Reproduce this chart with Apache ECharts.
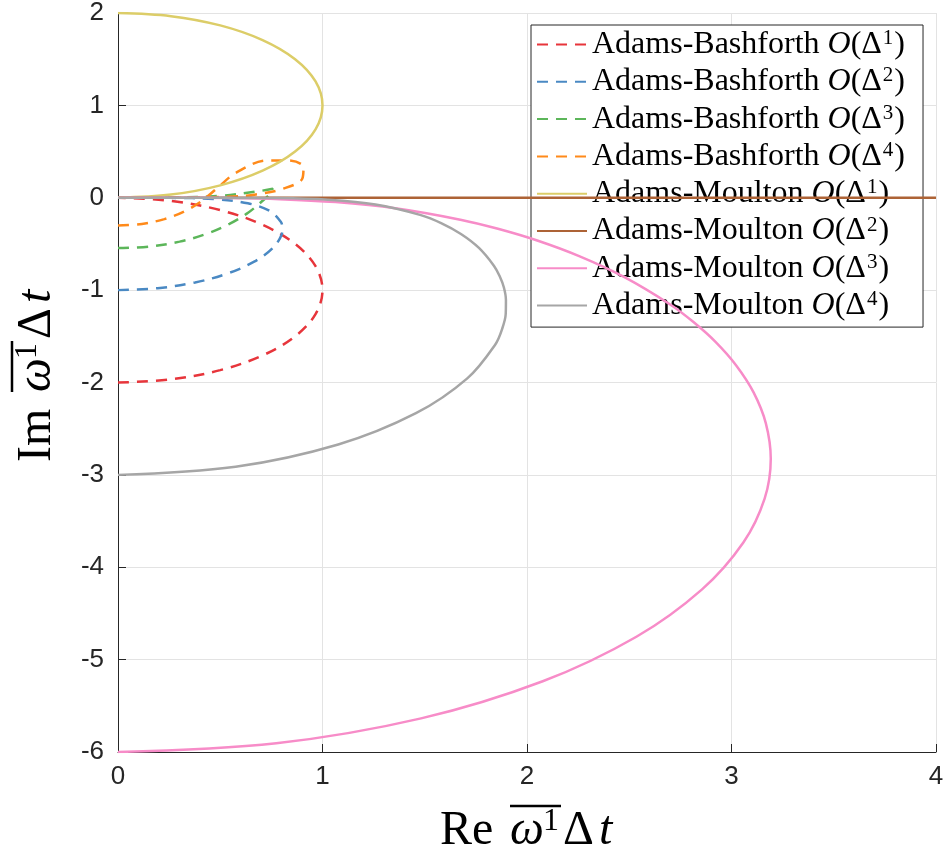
<!DOCTYPE html>
<html>
<head>
<meta charset="utf-8">
<title>Stability regions</title>
<script src="https://cdn.jsdelivr.net/npm/echarts@6/dist/echarts.min.js"></script>
<style>
  html, body { margin: 0; padding: 0; background: #fff; }
  #chart { width: 948px; height: 862px; }
</style>
</head>
<body>
<div id="chart"></div>
<script>
// 曲线数据：[Re, Im]
const ab1 = [[0, -2], [0.259, -1.966], [0.5, -1.866], [0.707, -1.707], [0.866, -1.5], [0.966, -1.259], [1, -1],
  [0.966, -0.741], [0.866, -0.5], [0.707, -0.293], [0.5, -0.134], [0.259, -0.034], [0, 0]];
const ab2 = [[0, -1], [0.194, -0.979], [0.377, -0.917], [0.538, -0.818], [0.666, -0.692], [0.755, -0.549], [0.8, -0.4],
  [0.804, -0.328], [0.796, -0.26], [0.742, -0.143], [0.635, -0.06], [0.472, -0.015], [0.255, -0.001], [0, 0]];
const ab3 = [[0, -0.545], [0.155, -0.528], [0.301, -0.475], [0.433, -0.391], [0.545, -0.283], [0.636, -0.162], [0.703, -0.041],
  [0.749, 0.055], [0.757, 0.097], [0.688, 0.071], [0.508, 0.022], [0.261, 0.002], [0, 0]];
const ab4 = [[0, -0.3], [0.117, -0.283], [0.227, -0.231], [0.326, -0.147], [0.411, -0.032], [0.488, 0.11], [0.578, 0.272],
  [0.73, 0.403], [0.831, 0.404], [0.907, 0.33], [0.901, 0.206], [0.808, 0.098], [0.674, 0.036], [0.533, 0.01], [0.262, 0], [0, 0]];
const am1 = [[0, 2], [0.259, 1.966], [0.5, 1.866], [0.707, 1.707], [0.866, 1.5], [0.966, 1.259], [1, 1],
  [0.966, 0.741], [0.866, 0.5], [0.707, 0.293], [0.5, 0.134], [0.259, 0.034], [0, 0]];
const am2 = [[0, 0], [4, 0]];
const am3 = [[0, -6], [0.774, -5.905], [1.482, -5.636], [2.077, -5.234], [2.535, -4.752], [2.856, -4.239], [3.058, -3.732],
  [3.162, -3.257], [3.192, -2.826], [3.168, -2.442], [3.108, -2.107], [3.023, -1.815], [2.923, -1.563], [2.814, -1.346],
  [2.702, -1.158], [2.474, -0.857], [2.255, -0.632], [2.05, -0.463], [1.858, -0.336], [1.68, -0.24], [1.356, -0.114],
  [1.064, -0.047], [0.79, -0.015], [0.524, -0.003], [0.262, 0], [0, 0]];
const am4 = [[0, -3], [0.575, -2.912], [1.077, -2.671], [1.457, -2.332], [1.708, -1.955], [1.845, -1.588], [1.879, -1.416],
  [1.896, -1.256], [1.897, -1.107], [1.887, -0.971], [1.866, -0.847], [1.838, -0.735], [1.765, -0.543], [1.677, -0.392],
  [1.58, -0.274], [1.477, -0.185], [1.259, -0.073], [1.026, -0.022], [0.779, -0.004], [0.524, -0.001], [0.262, 0], [0, 0]];

const methodNames = ['Adams-Bashforth', 'Adams-Bashforth', 'Adams-Bashforth', 'Adams-Bashforth',
  'Adams-Moulton', 'Adams-Moulton', 'Adams-Moulton', 'Adams-Moulton'];
const methodOrders = [1, 2, 3, 4, 1, 2, 3, 4];
const seriesData = [ab1, ab2, ab3, ab4, am1, am2, am3, am4];
const seriesColors = ['#e7353b', '#4a89c3', '#5cb65a', '#ff8a1a', '#dccd68', '#ad6336', '#f78cc8', '#a6a6a6'];
const xTicks = [0, 1, 2, 3, 4];
const yTicks = [-6, -5, -4, -3, -2, -1, 0, 1, 2];

const SUP = ['⁰', '¹', '²', '³', '⁴'];
const seriesNames = methodNames.map((m, i) => m + ' O(Δ' + SUP[methodOrders[i]] + ')');

const SERIF = 'Liberation Serif';
const SANS = 'Liberation Sans, Arial, sans-serif';

const chart = echarts.init(document.getElementById('chart'));

const series = seriesNames.map((name, i) => ({
  name: name,
  type: 'line',
  data: seriesData[i],
  showSymbol: false,
  symbol: 'none',
  smooth: i === 5 ? false : 0.35,
  lineStyle: {
    color: seriesColors[i],
    width: 2.5,
    type: i < 4 ? [11, 8] : 'solid'
  },
  itemStyle: { color: seriesColors[i] },
  z: 2 + i
}));

// 轴标题：分段排版（Re/Im, ω, 上标1, Δ, t）
function titlePieces(word) {
  const big = { fontFamily: SERIF, fontSize: 48, fill: '#000' };
  return [
    { type: 'text', x: 0, y: 0, style: Object.assign({ text: word, verticalAlign: 'middle' }, big) },
    { type: 'text', x: 70, y: 0, style: Object.assign({ text: 'ω', verticalAlign: 'middle', fontStyle: 'italic' }, big) },
    { type: 'text', x: 103, y: -9, style: { text: '1', verticalAlign: 'middle', fontFamily: SERIF, fontSize: 32, fill: '#000' } },
    { type: 'text', x: 123, y: 0, style: Object.assign({ text: 'Δ', verticalAlign: 'middle' }, big) },
    { type: 'text', x: 159, y: 0, style: Object.assign({ text: 't', verticalAlign: 'middle', fontStyle: 'italic' }, big) },
    { type: 'line', shape: { x1: 70, y1: -25, x2: 121, y2: -25 }, style: { stroke: '#000', lineWidth: 2.5 } }
  ];
}

const option = {
  animation: false,
  backgroundColor: '#fff',
  grid: { left: 118, top: 12, width: 818, height: 740, containLabel: false },
  xAxis: {
    type: 'value',
    min: xTicks[0],
    max: xTicks[xTicks.length - 1],
    interval: 1,
    axisLine: { show: true, onZero: false, lineStyle: { color: '#262626', width: 1 } },
    axisTick: { show: true, inside: true, length: 8, lineStyle: { color: '#262626' } },
    axisLabel: { fontFamily: SANS, fontSize: 26, color: '#262626', margin: 12 },
    splitLine: { show: true, lineStyle: { color: '#e3e3e3', width: 1 } }
  },
  yAxis: {
    type: 'value',
    min: yTicks[0],
    max: yTicks[yTicks.length - 1],
    interval: 1,
    axisLine: { show: true, onZero: false, lineStyle: { color: '#262626', width: 1 } },
    axisTick: { show: true, inside: true, length: 8, lineStyle: { color: '#262626' } },
    axisLabel: { fontFamily: SANS, fontSize: 26, color: '#262626', margin: 14 },
    splitLine: { show: true, lineStyle: { color: '#e3e3e3', width: 1 } }
  },
  legend: {
    orient: 'vertical',
    left: 531,
    top: 25,
    padding: [3, 18, 5, 5],
    itemWidth: 50,
    itemHeight: 12,
    itemGap: 4.3,
    borderColor: '#262626',
    borderWidth: 1,
    borderRadius: 0,
    backgroundColor: '#fff',
    itemStyle: { opacity: 0 },
    data: seriesNames,
    formatter: (name) => {
      const i = seriesNames.indexOf(name);
      return '{t|' + methodNames[i] + ' }{i|O}{t|(Δ}{s|' + methodOrders[i] + '}{t|)}';
    },
    textStyle: {
      fontFamily: SERIF,
      fontSize: 32,
      color: '#000',
      rich: {
        t: { fontFamily: SERIF, fontSize: 32, lineHeight: 36, color: '#000' },
        i: { fontFamily: SERIF, fontSize: 32, lineHeight: 36, color: '#000', fontStyle: 'italic' },
        s: { fontFamily: SERIF, fontSize: 21, lineHeight: 22, color: '#000', padding: [0, 1, 12, 1] }
      }
    }
  },
  graphic: [
    { type: 'group', x: 440, y: 831, children: titlePieces('Re') },
    { type: 'group', x: 37, y: 462, rotation: Math.PI / 2, children: titlePieces('Im') }
  ],
  series: series
};

chart.setOption(option);
</script>
</body>
</html>
